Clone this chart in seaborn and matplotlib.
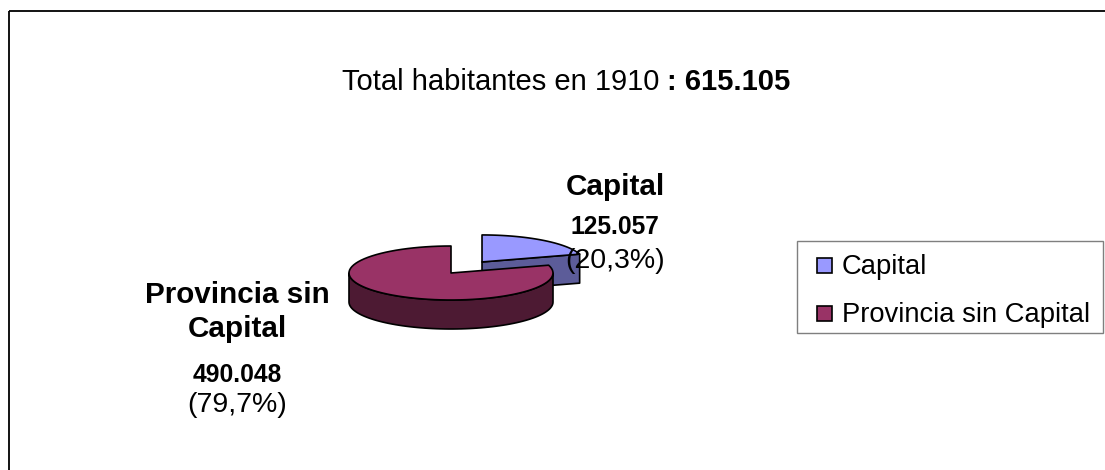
import numpy as np
import matplotlib
matplotlib.use('Agg')
import matplotlib.pyplot as plt
import seaborn as sns
from matplotlib.patches import Polygon, Rectangle

sns.set_style('white')
plt.rcParams['font.family'] = ['Liberation Sans', 'DejaVu Sans']
plt.rcParams['text.color'] = 'black'

# ===============================
# DATA
# ===============================
categories = ['Capital', 'Provincia sin Capital']
label_lines = [['Capital'], ['Provincia sin', 'Capital']]
habitantes = [125057, 490048]
year = 1910
top_colors = ['#9999FF', '#993366']
side_colors = ['#5C5C99', '#4D1A33']
explode = [0.51, 0.0]

total = sum(habitantes)
fracs = [v / total for v in habitantes]


def miles(v):
    return f'{v:,}'.replace(',', '.')


def pct(f):
    return f'({f * 100:.1f}%)'.replace('.', ',')


# ===============================
# 3D PIE GEOMETRY (pixel space)
# ===============================
cx, cy = 451, 273
rx, ry = 102, 27
depth = 29
W, H = 1105, 470

fig = plt.figure(figsize=(W / 100, H / 100), dpi=100)
ax = fig.add_axes([0, 0, 1, 1])
ax.set_xlim(0, W)
ax.set_ylim(H, 0)
ax.axis('off')


def pt(c, t, dz=0.0):
    r = np.radians(t)
    return (c[0] + rx * np.cos(r), c[1] - ry * np.sin(r) + dz)


def arc(c, a, b, dz=0.0, n=80):
    ts = np.linspace(a, b, n)
    return [pt(c, t, dz) for t in ts]


edge = dict(edgecolor='black', linewidth=1.2, joinstyle='round')

# slices clockwise from 12 o'clock, like Excel
start = 90.0
slices = []
for i, f in enumerate(fracs):
    t2 = start
    t1 = start - 360 * f
    start = t1
    mid = np.radians((t1 + t2) / 2)
    c = (cx + explode[i] * rx * np.cos(mid), cy - explode[i] * ry * np.sin(mid))
    slices.append((i, t1, t2, c))

for i, t1, t2, c in slices:
    # radial faces
    for t, sign in ((t1, 1), (t2, -1)):
        if sign * np.cos(np.radians(t)) > 1e-6:
            p = pt(c, t)
            face = [c, p, (p[0], p[1] + depth), (c[0], c[1] + depth)]
            ax.add_patch(Polygon(face, closed=True, facecolor=side_colors[i], **edge))
    # front outer wall
    for k in range(-2, 2):
        a = max(t1, -180 + 360 * k)
        b = min(t2, 0 + 360 * k)
        if b > a:
            wall = arc(c, a, b) + arc(c, b, a, depth)
            ax.add_patch(Polygon(wall, closed=True, facecolor=side_colors[i], **edge))
    # top face
    top = [c] + arc(c, t1, t2)
    ax.add_patch(Polygon(top, closed=True, facecolor=top_colors[i], **edge))

# ===============================
# LABELS
# ===============================
# Capital
ax.text(615, 195, label_lines[0][0], ha='center', va='baseline',
        fontsize=21.3, fontweight='bold')
ax.text(615, 234, miles(habitantes[0]), ha='center', va='baseline',
        fontsize=17.7, fontweight='bold')
ax.text(615, 268, pct(fracs[0]), ha='center', va='baseline', fontsize=20.5)

# Provincia sin Capital
ax.text(237, 303, label_lines[1][0], ha='center', va='baseline',
        fontsize=21.3, fontweight='bold')
ax.text(237, 337, label_lines[1][1], ha='center', va='baseline',
        fontsize=21.3, fontweight='bold')
ax.text(237, 382, miles(habitantes[1]), ha='center', va='baseline',
        fontsize=17.7, fontweight='bold')
ax.text(237, 412, pct(fracs[1]), ha='center', va='baseline', fontsize=20.5)

# Title
ax.text(659, 90, f'Total habitantes en {year}', ha='right', va='baseline',
        fontsize=21)
ax.text(667, 90, f': {miles(total)}', ha='left', va='baseline',
        fontsize=21, fontweight='bold')

# ===============================
# LEGEND
# ===============================
ax.add_patch(Rectangle((797, 241), 306, 92, fill=False,
                       edgecolor='#7F7F7F', linewidth=1.0))
for i, (name, yb) in enumerate(zip(categories, [274, 322])):
    ax.add_patch(Rectangle((817, yb - 16), 15, 15, facecolor=top_colors[i],
                           edgecolor='black', linewidth=1.2))
    ax.text(842, yb, name, ha='left', va='baseline', fontsize=19.7)

# chart area frame
ax.add_patch(Rectangle((8.5, 10.5), 1200, 600, fill=False,
                       edgecolor='black', linewidth=1.3))

fig.savefig('out.png', dpi=100)
plt.close(fig)
